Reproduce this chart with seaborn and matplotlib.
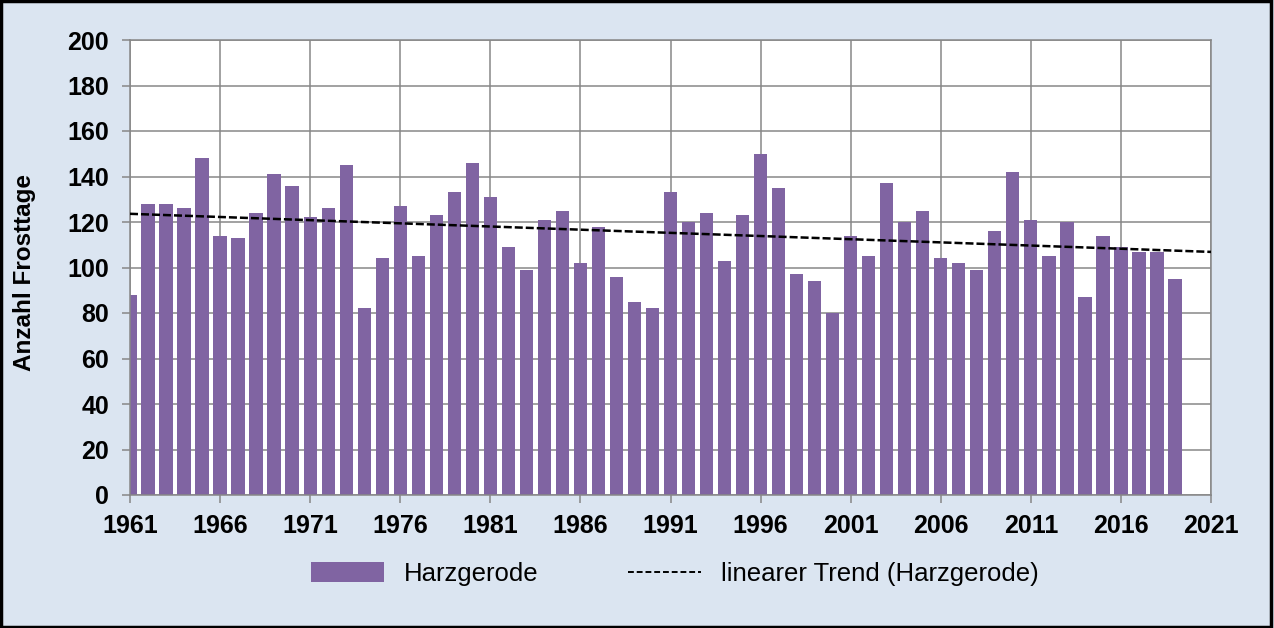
import matplotlib
matplotlib.use("Agg")
import matplotlib.pyplot as plt
import matplotlib.patches as mpatches
from matplotlib.lines import Line2D
import seaborn as sns
import numpy as np
import pandas as pd

# Daten: Anzahl Frosttage Harzgerode 1961-2019
jahre = list(range(1961, 2020))
frosttage = [88, 128, 128, 126, 148, 114, 113, 124, 141, 136,
             122, 126, 145, 82, 104, 127, 105, 123, 133, 146,
             131, 109, 99, 121, 125, 102, 118, 96, 85, 82,
             133, 120, 124, 103, 123, 150, 135, 97, 94, 80,
             114, 105, 137, 120, 125, 104, 102, 99, 116, 142,
             121, 105, 120, 87, 114, 109, 107, 107, 95]
x_ticks = list(range(1961, 2022, 5))
y_ticks = list(range(0, 201, 20))

BAR_COLOR = "#8064A2"
BG_COLOR = "#DBE5F1"
GRID_COLOR = "#878787"

df = pd.DataFrame({"Jahr": jahre, "Frosttage": frosttage})

# linearer Trend (wie Excel), bis zum Achsenende verlängert
steigung, achse = np.polyfit(df["Jahr"], df["Frosttage"], 1)
trend_x = np.array([x_ticks[0], x_ticks[-1]])
trend = pd.DataFrame({"Jahr": trend_x, "Trend": steigung * trend_x + achse})

sns.set_theme(style="white")
plt.rcParams["font.family"] = ["Liberation Sans", "DejaVu Sans"]
plt.rcParams["text.color"] = "black"
plt.rcParams["axes.labelcolor"] = "black"
plt.rcParams["xtick.labelcolor"] = "black"
plt.rcParams["ytick.labelcolor"] = "black"

fig = plt.figure(figsize=(12.74, 6.28), dpi=100, facecolor=BG_COLOR)
ax = fig.add_axes([130 / 1274, 1 - 495 / 628, 1081 / 1274, 455 / 628])
ax.set_facecolor("white")

sns.barplot(data=df, x="Jahr", y="Frosttage", native_scale=True, width=0.74,
            color=BAR_COLOR, saturation=1, edgecolor="none", ax=ax, zorder=2)
sns.lineplot(data=trend, x="Jahr", y="Trend", ax=ax, color="black",
             linewidth=1.8, dashes=False, zorder=3)
ax.lines[-1].set_dashes((3.2, 1.2))

ax.set_xlim(x_ticks[0], x_ticks[-1])
ax.set_ylim(0, 200)
ax.set_xticks(x_ticks)
ax.set_yticks(y_ticks)
ax.set_xticklabels([str(t) for t in x_ticks], fontsize=18, fontweight="bold", color="black")
ax.set_yticklabels([str(t) for t in y_ticks], fontsize=18, fontweight="bold", color="black")
ax.tick_params(axis="both", direction="out", length=6, width=1.1, color=GRID_COLOR,
               bottom=True, left=True)
ax.tick_params(axis="y", pad=9)
ax.tick_params(axis="x", pad=8)

ax.grid(True, color=GRID_COLOR, linewidth=1.1, zorder=0)
ax.set_axisbelow(True)
for s in ax.spines.values():
    s.set_color(GRID_COLOR)
    s.set_linewidth(1.1)

ax.set_xlabel("")
ax.set_ylabel("Anzahl Frosttage", fontsize=17.5, fontweight="bold", color="black")
ax.yaxis.set_label_coords(-0.087, 0.49)

# Legende unterhalb
handles = [mpatches.Patch(facecolor=BAR_COLOR, edgecolor="none"),
           Line2D([0], [0], color="black", linewidth=1.4, linestyle=(0, (3, 1.5)))]
labels = ["Harzgerode", "linearer Trend (Harzgerode)"]
leg = fig.legend(handles, labels, loc="center", bbox_to_anchor=(675 / 1274, 1 - 574 / 628),
                 ncol=2, frameon=False, fontsize=18.5, handlelength=2.84, handleheight=0.78,
                 handletextpad=0.78, columnspacing=3.5)
for t in leg.get_texts():
    t.set_color("black")

# Rahmen um die Grafik
fig.patches.append(mpatches.Rectangle((0.001, 0.002), 0.997, 0.996, transform=fig.transFigure,
                                      fill=False, edgecolor="black", linewidth=2.5))

fig.savefig("out.png", dpi=100, facecolor=BG_COLOR)
